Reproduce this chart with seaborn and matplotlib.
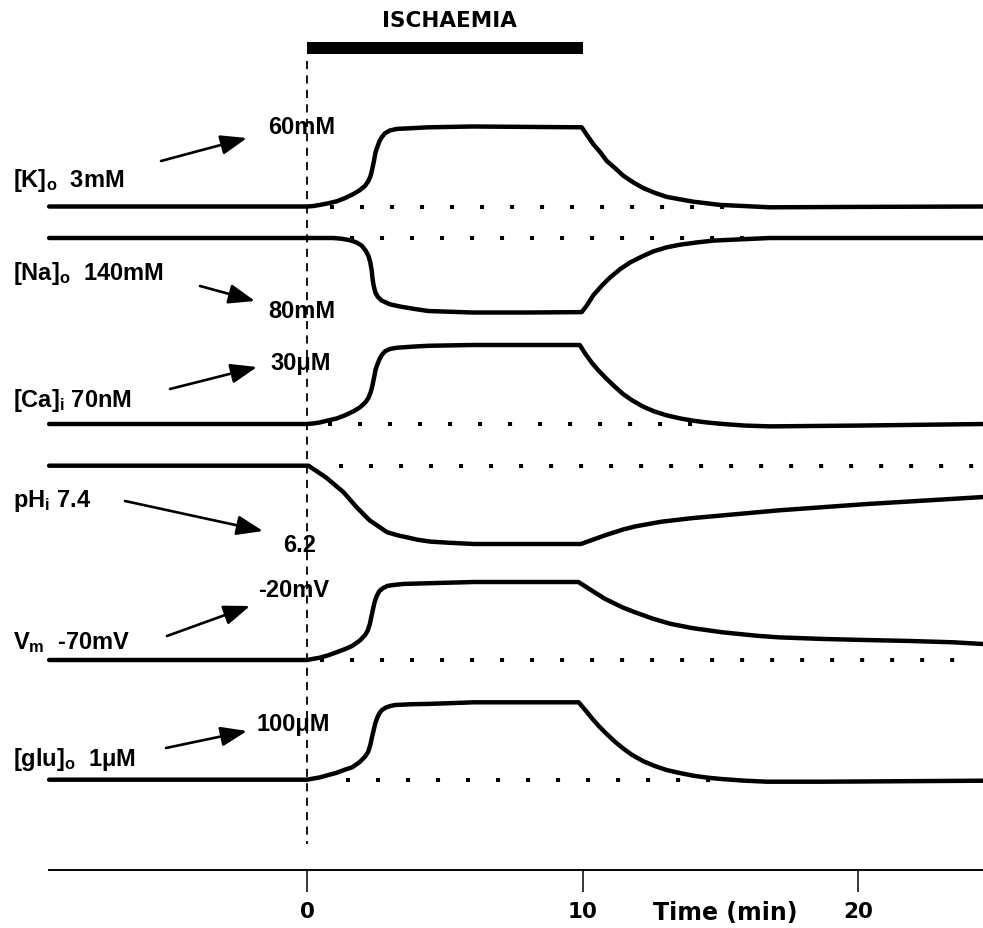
import matplotlib
matplotlib.use("Agg")
import matplotlib.pyplot as plt
import numpy as np
import pandas as pd
import seaborn as sns

# ---------------------------------------------------------------------------
# Data: time (min) and level of each signal, as a fraction of its full
# ischaemic change (0 = resting value, +1 = maximal rise, -1 = maximal fall)
# ---------------------------------------------------------------------------
ISCH_START, ISCH_END = 0, 10
TIME_TICKS = [0, 10, 20]

T_K = [-9.36, 0, 0.23, 0.47, 0.77, 1.08, 1.38, 1.68, 1.92, 2.11, 2.23, 2.31, 2.37, 2.43,
       2.49, 2.55, 2.63, 2.71, 2.83, 3.01, 3.26, 3.86, 4.40, 6.00, 9.97,
       10.15, 10.39, 10.64, 10.88, 11.18, 11.48, 11.85, 12.21, 12.63, 13.06, 13.54,
       14.02, 14.51, 14.99, 15.84, 16.80, 20.0, 24.6]
K_LEVEL = [0, 0, 0.006, 0.02, 0.04, 0.065, 0.105, 0.155, 0.205, 0.26, 0.32, 0.385, 0.47, 0.57,
           0.68, 0.74, 0.815, 0.865, 0.915, 0.95, 0.97, 0.98, 0.99, 1.0, 0.99,
           0.90, 0.78, 0.68, 0.57, 0.48, 0.385, 0.30, 0.23, 0.17, 0.12, 0.09,
           0.06, 0.04, 0.02, 0.006, -0.01, -0.005, 0]

T_NA = [-9.36, 0, 0.95, 1.26, 1.56, 1.80, 1.98, 2.13, 2.23, 2.30, 2.35, 2.38, 2.42, 2.48,
        2.57, 2.71, 3.01, 3.38, 3.86, 4.40, 6.00, 8.00, 9.97,
        10.15, 10.39, 10.70, 11.00, 11.36, 11.72, 12.15, 12.57, 13.06, 13.54, 14.14,
        14.75, 15.60, 16.80, 20.0, 24.6]
NA_LEVEL = [0, 0, 0, -0.01, -0.03, -0.06, -0.10, -0.17, -0.24, -0.33, -0.44, -0.55, -0.64, -0.73,
            -0.79, -0.84, -0.89, -0.92, -0.95, -0.98, -1.0, -1.0, -0.995,
            -0.91, -0.77, -0.64, -0.53, -0.42, -0.33, -0.25, -0.18, -0.125, -0.09, -0.06,
            -0.035, -0.02, 0, 0, 0]

T_CA = [-9.36, 0, 0.23, 0.47, 0.77, 1.08, 1.38, 1.68, 1.92, 2.11, 2.23, 2.31, 2.37, 2.43,
        2.49, 2.55, 2.63, 2.71, 2.83, 3.01, 3.26, 3.86, 4.40, 6.00, 9.90,
        10.10, 10.35, 10.60, 10.85, 11.15, 11.47, 11.80, 12.20, 12.60, 13.05, 13.55,
        14.05, 14.50, 15.10, 15.90, 16.80, 20.0, 24.6]
CA_LEVEL = [0, 0, 0.007, 0.02, 0.045, 0.07, 0.11, 0.16, 0.21, 0.27, 0.33, 0.40, 0.48, 0.58,
            0.69, 0.75, 0.82, 0.87, 0.92, 0.95, 0.965, 0.98, 0.99, 1.0, 1.0,
            0.89, 0.77, 0.67, 0.58, 0.48, 0.38, 0.30, 0.22, 0.16, 0.11, 0.07,
            0.04, 0.02, 0.0, -0.02, -0.03, -0.02, 0]

T_PH = [-9.36, 0.05, 0.22, 0.69, 1.33, 1.80, 2.28, 2.91, 3.30, 3.70, 4.00, 4.49, 5.20,
        6.07, 9.94, 10.81, 11.47, 11.92, 12.87, 13.97, 15.55, 17.13, 20.30, 22.67, 24.54]
PH_LEVEL = [0, 0, -0.04, -0.15, -0.34, -0.53, -0.70, -0.85, -0.89, -0.92, -0.945, -0.97, -0.985,
            -1.0, -1.0, -0.89, -0.815, -0.775, -0.715, -0.67, -0.62, -0.57, -0.49, -0.44, -0.40]

T_VM = [-9.36, 0, 0.23, 0.47, 0.77, 1.08, 1.38, 1.64, 1.92, 2.11, 2.20, 2.28, 2.34, 2.40,
        2.46, 2.53, 2.62, 2.75, 2.92, 3.10, 3.50, 4.49, 6.07, 9.85,
        10.34, 10.81, 11.45, 11.92, 12.55, 13.18, 13.97, 15.08, 16.35, 17.14, 18.72,
        20.30, 21.88, 23.46, 24.54]
VM_LEVEL = [0, 0, 0.015, 0.03, 0.06, 0.10, 0.14, 0.18, 0.25, 0.32, 0.375, 0.46, 0.56, 0.66,
            0.75, 0.82, 0.88, 0.92, 0.95, 0.96, 0.975, 0.985, 1.0, 1.0,
            0.89, 0.785, 0.675, 0.61, 0.53, 0.465, 0.41, 0.355, 0.31, 0.29, 0.27,
            0.256, 0.244, 0.227, 0.205]

T_GLU = [-9.36, 0, 0.23, 0.47, 0.77, 1.08, 1.38, 1.64, 1.92, 2.11, 2.22, 2.30, 2.36, 2.42,
         2.48, 2.55, 2.63, 2.72, 2.85, 3.00, 3.20, 3.80, 4.49, 6.07, 9.86,
         10.10, 10.35, 10.60, 10.85, 11.15, 11.45, 11.80, 12.20, 12.60, 13.05, 13.55,
         14.05, 14.50, 15.00, 15.85, 16.70, 18.72, 24.54]
GLU_LEVEL = [0, 0, 0.015, 0.03, 0.06, 0.09, 0.13, 0.16, 0.23, 0.30, 0.36, 0.45, 0.55, 0.64,
             0.73, 0.80, 0.86, 0.90, 0.93, 0.95, 0.965, 0.975, 0.98, 1.0, 1.0,
             0.90, 0.79, 0.69, 0.60, 0.50, 0.41, 0.32, 0.24, 0.18, 0.125, 0.085,
             0.05, 0.028, 0.01, -0.012, -0.026, -0.026, -0.013]

SIGNALS = ["K", "Na", "Ca", "pH", "Vm", "glu"]
REST_LABELS = [r"[K]$_\mathrm{o}$  3mM", r"[Na]$_\mathrm{o}$  140mM", r"[Ca]$_\mathrm{i}$ 70nM",
               r"pH$_\mathrm{i}$ 7.4", r"V$_\mathrm{m}$  -70mV", r"[glu]$_\mathrm{o}$  1μM"]
PEAK_LABELS = ["60mM", "80mM", "30μM", "6.2", "-20mV", "100μM"]

# ---------------------------------------------------------------------------
# Layout (figure pixels)
# ---------------------------------------------------------------------------
W, H = 983, 929
X0_PX, PX_PER_MIN = 307.0, 27.55
X_MIN, X_MAX = -X0_PX / PX_PER_MIN, (W - X0_PX) / PX_PER_MIN

# resting row and full-scale height of each trace
TRACE_ROW = {"K": 207.5, "Na": 239.0, "Ca": 425.0, "pH": 466.7, "Vm": 661.0, "glu": 780.7}
TRACE_AMP = {"K": 80.0, "Na": 74.5, "Ca": 79.0, "pH": 78.3, "Vm": 78.0, "glu": 77.4}
# extent of the dotted resting-level line (min)
DOT_SPAN = {"K": (0.83, 15.2), "Na": (1.56, 15.9), "Ca": (0.76, 15.1),
            "pH": (1.16, 24.5), "Vm": (0.47, 23.7), "glu": (1.40, 15.0)}
REST_POS = {"K": (13, 187), "Na": (13, 280), "Ca": (13, 407),
            "pH": (13, 507), "Vm": (13, 649), "glu": (13, 766)}
PEAK_POS = {"K": (268, 134), "Na": (268, 318), "Ca": (270, 370),
            "pH": (283, 552), "Vm": (258, 597), "glu": (256, 731)}
ARROWS = {"K": ((161, 162), (247, 139)), "Na": ((200, 287), (255, 302)),
          "Ca": ((170, 390), (257, 368)), "pH": ((125, 502), (263, 532)),
          "Vm": ((167, 637), (250, 607)), "glu": ((166, 749), (247, 732))}

traces = pd.concat([
    pd.DataFrame({"signal": name, "time": t, "level": lv})
    for name, t, lv in [("K", T_K, K_LEVEL), ("Na", T_NA, NA_LEVEL), ("Ca", T_CA, CA_LEVEL),
                        ("pH", T_PH, PH_LEVEL), ("Vm", T_VM, VM_LEVEL), ("glu", T_GLU, GLU_LEVEL)]
], ignore_index=True)

sns.set_theme(style="white")
plt.rcParams["font.family"] = ["Liberation Sans", "DejaVu Sans"]
plt.rcParams["mathtext.fontset"] = "custom"
plt.rcParams["mathtext.rm"] = "Liberation Sans:bold"
plt.rcParams["mathtext.it"] = "Liberation Sans:bold"
plt.rcParams["mathtext.bf"] = "Liberation Sans:bold"

fig = plt.figure(figsize=(W / 100, H / 100), dpi=100)
fig.patch.set_facecolor("white")

# time axis (minutes horizontally, pixel rows vertically)
ax = fig.add_axes([0, 0, 1, 1])
ax.set_xlim(X_MIN, X_MAX)
ax.set_ylim(H, 0)
ax.patch.set_visible(False)
for side in ["top", "left", "right"]:
    ax.spines[side].set_visible(False)
ax.spines["bottom"].set_position(("data", 871))
ax.spines["bottom"].set_bounds(-9.36, X_MAX)
ax.spines["bottom"].set_linewidth(1.4)
ax.spines["bottom"].set_color("black")
ax.set_xticks(TIME_TICKS)
ax.set_xticklabels([str(v) for v in TIME_TICKS], fontfamily="DejaVu Sans",
                   fontweight="bold", fontsize=15.5)
ax.set_yticks([])
ax.tick_params(axis="x", bottom=True, labelbottom=True, direction="out",
               length=15.8, width=1.1, pad=6.5, colors="black")

# ischaemia bar and onset marker
ax.fill_between([ISCH_START, ISCH_END], 43, 55, color="black", linewidth=0)
ax.plot([ISCH_START, ISCH_START], [62, 845], color="black", lw=1.3,
        linestyle=(0, (4.5, 3.5)), dash_capstyle="butt")

# one axes per trace, scaled so that 0 sits on the resting row
for name in SIGNALS:
    df = traces[traces.signal == name]
    b, amp = TRACE_ROW[name], TRACE_AMP[name]
    lo, hi = (-0.25, 1.25) if df.level.max() > 0.5 else (-1.25, 0.25)
    bottom_row, top_row = b - amp * lo, b - amp * hi
    axt = fig.add_axes([0, 1 - bottom_row / H, 1, (bottom_row - top_row) / H], sharex=ax)
    axt.set_ylim(lo, hi)
    axt.set_axis_off()
    axt.patch.set_visible(False)
    d0, d1 = DOT_SPAN[name]
    axt.plot([d0, d1], [0, 0], color="black", lw=2.9, dashes=(1, 6.45),
             dash_capstyle="butt", zorder=1)
    sns.lineplot(data=df, x="time", y="level", ax=axt, color="black", linewidth=3.2,
                 estimator=None, sort=False, zorder=2)
    axt.set_xlim(X_MIN, X_MAX)

# annotation layer in pixel units
axp = fig.add_axes([0, 0, 1, 1])
axp.set_xlim(0, W)
axp.set_ylim(H, 0)
axp.set_axis_off()
axp.patch.set_visible(False)

label_kw = dict(fontfamily="Liberation Sans", fontweight="bold", fontsize=17,
                va="baseline", color="black")
for name, rest, peak in zip(SIGNALS, REST_LABELS, PEAK_LABELS):
    axp.text(*REST_POS[name], rest, ha="left", **label_kw)
    axp.text(*PEAK_POS[name], peak, ha="left", **label_kw)
    start, end = ARROWS[name]
    axp.annotate("", xy=end, xytext=start,
                 arrowprops=dict(arrowstyle="-|>,head_length=0.8,head_width=0.3",
                                 mutation_scale=20, lw=1.9, color="black",
                                 shrinkA=0, shrinkB=0))

axp.text(449, 27, "ISCHAEMIA", ha="center", va="baseline", fontfamily="DejaVu Sans",
         fontweight="bold", fontsize=15.5, color="black")
axp.text(725, 920, "Time (min)", ha="center", va="baseline", fontfamily="DejaVu Sans",
         fontweight="bold", fontsize=17, color="black")

fig.savefig("out.png", dpi=100)
